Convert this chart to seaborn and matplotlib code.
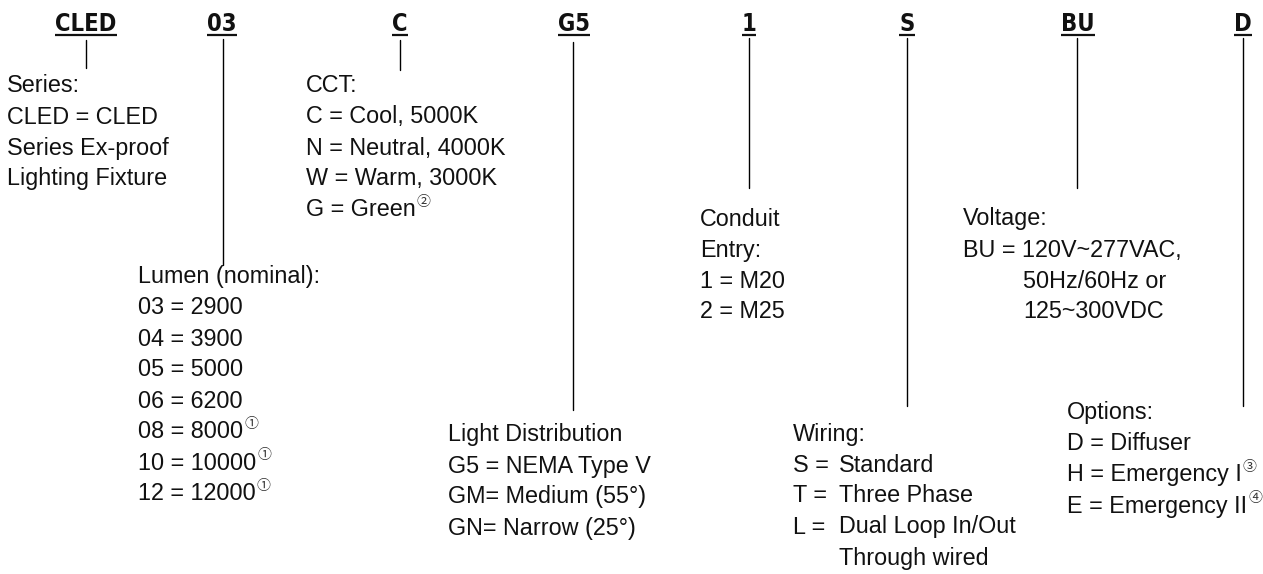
import matplotlib
matplotlib.use("Agg")
import matplotlib.pyplot as plt
import seaborn as sns
import pandas as pd

# ---------------- data ----------------
codes = ["CLED", "03", "C", "G5", "1", "S", "BU", "D"]

series_lines = ["Series:", "CLED = CLED", "Series Ex-proof", "Lighting Fixture"]
lumen_lines = ["Lumen (nominal):", "03 = 2900", "04 = 3900", "05 = 5000", "06 = 6200",
               "08 = 8000", "10 = 10000", "12 = 12000"]
lumen_notes = ["", "", "", "", "", "①", "①", "①"]
cct_lines = ["CCT:", "C = Cool, 5000K", "N = Neutral, 4000K", "W = Warm, 3000K", "G = Green"]
cct_notes = ["", "", "", "", "②"]
dist_lines = ["Light Distribution", "G5 = NEMA Type V", "GM= Medium (55°)", "GN= Narrow (25°)"]
conduit_lines = ["Conduit", "Entry:", "1 = M20", "2 = M25"]
wiring_head = "Wiring:"
wiring_keys = ["S =", "T =", "L =", ""]
wiring_vals = ["Standard", "Three Phase", "Dual Loop In/Out", "Through wired"]
voltage_lines = ["Voltage:", "BU = 120V~277VAC,"]
voltage_cont = ["50Hz/60Hz or", "125~300VDC"]
option_lines = ["Options:", "D = Diffuser", "H = Emergency I", "E = Emergency II"]
option_notes = ["", "", "③", "④"]

# ---------------- layout ----------------
W, H = 1263, 574
code_x = [86, 222, 400, 574, 749, 907, 1078, 1243]
conn_x = [86, 223, 400, 573, 749, 907, 1077, 1243]
conn_top = [40, 39, 40, 42, 38, 38, 38, 38]
conn_bot = [68, 265, 70, 410, 188, 406, 188, 406]
LS = 31.0
BODY = ["Liberation Sans", "DejaVu Sans"]
HEAD = ["DejaVu Sans", "Liberation Sans"]
NOTE = ["Noto Sans CJK SC", "DejaVu Sans"]
FS = 16.8

sns.set_theme(style="white")
plt.rcParams["font.family"] = BODY

fig = plt.figure(figsize=(W / 100, H / 100), dpi=100)
ax = fig.add_axes([0, 0, 1, 1])

# connectors through seaborn
rows = []
for i, (x, t, b) in enumerate(zip(conn_x, conn_top, conn_bot)):
    rows.append({"seg": i, "x": x, "y": t})
    rows.append({"seg": i, "x": x, "y": b})
seg_df = pd.DataFrame(rows)
sns.lineplot(data=seg_df, x="x", y="y", units="seg", estimator=None, sort=False,
             color="black", lw=1.0, ax=ax, legend=False)
ax.set_xlim(0, W)
ax.set_ylim(H, 0)
ax.axis("off")

renderer = fig.canvas.get_renderer()
inv = ax.transData.inverted()


def right_edge(t):
    bb = t.get_window_extent(renderer=renderer)
    return inv.transform((bb.x1, bb.y1))[0]


def block(x, y0, lines, notes=None):
    for i, s in enumerate(lines):
        y = y0 + i * LS
        t = ax.text(x, y, s, fontsize=FS, family=BODY, color="#111111",
                    ha="left", va="center")
        if notes and notes[i]:
            xr = right_edge(t)
            ax.text(xr + 1, y - 8, notes[i], fontsize=10, family=NOTE, color="#333333",
                    ha="left", va="center")


# headers with underline
for cx, c in zip(code_x, codes):
    t = ax.text(cx, 24, c, fontsize=17, family=HEAD, fontweight="bold",
                fontstretch="condensed", color="#111111", ha="center", va="center")
    bb = t.get_window_extent(renderer=renderer)
    xl = inv.transform((bb.x0, bb.y0))[0]
    xr = inv.transform((bb.x1, bb.y0))[0]
    ax.plot([xl, xr], [34.5, 34.5], color="#111111", lw=1.6, solid_capstyle="butt")

block(7, 86, series_lines)
block(306, 86, cct_lines, cct_notes)
block(138, 277, lumen_lines, lumen_notes)
block(700, 219, conduit_lines)
block(963, 219, voltage_lines)
block(1023, 219 + 2 * LS, voltage_cont)
block(448, 435, dist_lines)
block(1067, 413, option_lines, option_notes)

# wiring
ax.text(793, 434, wiring_head, fontsize=FS, family=BODY, color="#111111", ha="left", va="center")
for i, (k, v) in enumerate(zip(wiring_keys, wiring_vals)):
    y = 434 + (i + 1) * LS
    if k:
        ax.text(793, y, k, fontsize=FS, family=BODY, color="#111111", ha="left", va="center")
    ax.text(839, y, v, fontsize=FS, family=BODY, color="#111111", ha="left", va="center")

fig.savefig("out.png", dpi=100, facecolor="white")
